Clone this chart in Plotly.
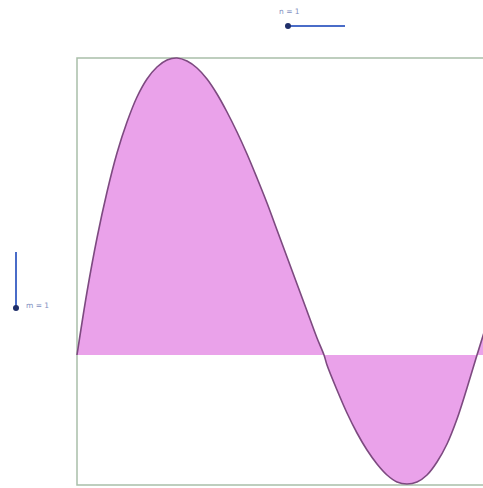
import plotly.graph_objects as go

# valores (unidades del grafico)
x_vals = [0.0, 0.1, 0.2, 0.3, 0.4, 0.5, 0.6, 0.7, 0.8, 0.9, 1.0, 1.1, 1.2, 1.3,
          1.4, 1.5, 1.6, 1.7, 1.8, 1.9, 2.0, 2.1, 2.2, 2.3, 2.4, 2.47, 2.5, 2.6,
          2.7, 2.8, 2.9, 3.0, 3.1, 3.2, 3.3, 3.4, 3.5, 3.6, 3.7, 3.8, 3.9, 4.0, 4.1]
y_vals = [0.0, 0.63, 1.17, 1.63, 2.02, 2.33, 2.58, 2.76, 2.88, 2.95, 2.97, 2.94, 2.87, 2.76,
          2.61, 2.43, 2.23, 2.01, 1.77, 1.52, 1.25, 0.98, 0.71, 0.44, 0.17, 0.0, -0.10, -0.35,
          -0.58, -0.78, -0.95, -1.09, -1.20, -1.27, -1.29, -1.27, -1.20, -1.07, -0.89, -0.64, -0.33, 0.0, 0.32]

slider_n = "n = 1"
slider_m = "m = 1"

fig = go.Figure()

fig.add_trace(go.Scatter(
    x=x_vals, y=y_vals, mode="lines", line_shape="spline",
    line=dict(color="#7d4a80", width=1.6),
    fill="tozeroy", fillcolor="#eaa2ea",
    hoverinfo="skip", showlegend=False,
))

# marco de la vista
fig.add_shape(type="rect", xref="x", yref="y", x0=0, x1=4.3, y0=-1.30, y1=2.97,
              line=dict(color="#a9bfa9", width=1.5), layer="below")

# deslizador n (horizontal, arriba)
fig.add_shape(type="line", xref="paper", yref="paper",
              x0=288 / 483, x1=345 / 483, y0=1 - 26 / 488, y1=1 - 26 / 488,
              line=dict(color="#4a6cc8", width=2))
fig.add_shape(type="circle", xref="paper", yref="paper",
              x0=285 / 483, x1=291 / 483, y0=1 - 29 / 488, y1=1 - 23 / 488,
              fillcolor="#1f2f6a", line=dict(width=0))
fig.add_annotation(text=slider_n, xref="paper", yref="paper",
                   x=289 / 483, y=1 - 11 / 488, xanchor="center", yanchor="middle",
                   showarrow=False,
                   font=dict(size=7.5, color="#7f8fc0", family="DejaVu Sans"))

# deslizador m (vertical, izquierda)
fig.add_shape(type="line", xref="paper", yref="paper",
              x0=16 / 483, x1=16 / 483, y0=1 - 252 / 488, y1=1 - 308 / 488,
              line=dict(color="#4a6cc8", width=2))
fig.add_shape(type="circle", xref="paper", yref="paper",
              x0=13 / 483, x1=19 / 483, y0=1 - 311 / 488, y1=1 - 305 / 488,
              fillcolor="#1f2f6a", line=dict(width=0))
fig.add_annotation(text=slider_m, xref="paper", yref="paper",
                   x=24 / 483, y=1 - 305 / 488, xanchor="left", yanchor="middle",
                   showarrow=False,
                   font=dict(size=7.5, color="#7f8fc0", family="DejaVu Sans"))

fig.update_xaxes(range=[-0.77, 4.06], visible=False, showgrid=False, zeroline=False)
fig.update_yaxes(range=[-1.33, 3.55], visible=False, showgrid=False, zeroline=False)

fig.update_layout(
    width=483, height=488,
    margin=dict(l=0, r=0, t=0, b=0),
    paper_bgcolor="white", plot_bgcolor="white",
)

# quitar el margen del body para que la figura quede en (0,0)
fig.write_html("out.html", config={"displayModeBar": False},
               post_script="document.body.style.margin='0';document.body.style.overflow='hidden';")
